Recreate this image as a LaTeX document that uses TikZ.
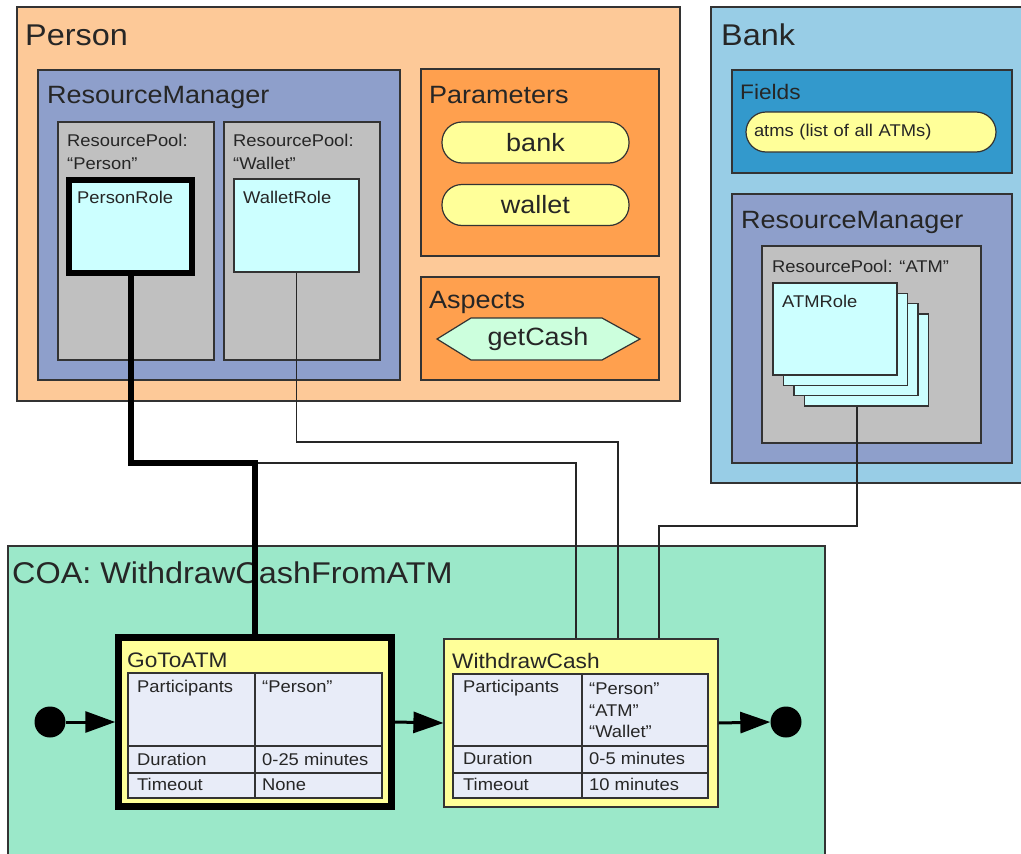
\documentclass[tikz,border=0pt]{standalone}
\usepackage{fontspec}
\setmainfont{Liberation Sans}[FakeStretch=1.08]
\usetikzlibrary{arrows.meta}

\definecolor{personfill}{HTML}{FDC998}
\definecolor{managerfill}{HTML}{8E9FCB}
\definecolor{poolfill}{HTML}{C0C0C0}
\definecolor{rolefill}{HTML}{CCFFFF}
\definecolor{paramfill}{HTML}{FFA04E}
\definecolor{pillfill}{HTML}{FFFF99}
\definecolor{aspectfill}{HTML}{CCFFDD}
\definecolor{bankfill}{HTML}{98CDE6}
\definecolor{fieldfill}{HTML}{3399CC}
\definecolor{coafill}{HTML}{9BE8C9}
\definecolor{tablefill}{HTML}{E8ECF8}
\definecolor{edge}{HTML}{333333}

\tikzset{
  box/.style={draw=edge, line width=1.2pt},
  bigtitle/.style={anchor=base west, inner sep=0, text=black!85, font=\fontsize{30}{36}\selectfont},
  midtitle/.style={anchor=base west, inner sep=0, text=black!85, font=\fontsize{25}{30}\selectfont},
  acttitle/.style={anchor=base west, inner sep=0, text=black!85, font=\fontsize{21}{25}\selectfont},
  smalltext/.style={anchor=base west, inner sep=0, text=black!85, font=\fontsize{17}{21}\selectfont},
  rolebox/.style={draw=edge, line width=1.2pt, fill=rolefill, inner sep=0, minimum width=124pt, minimum height=92pt},
  pill/.style={draw=edge, line width=1.2pt, fill=pillfill, rounded corners=20pt, minimum width=187pt, minimum height=41pt, text=black!85, font=\fontsize{25}{30}\selectfont},
  activity/.style={draw=edge, line width=1.2pt, fill=pillfill, inner sep=0},
  bound/.style={draw=black, line width=6.5pt},
  tableline/.style={draw=edge, line width=1.5pt},
  dot/.style={circle, fill=black, inner sep=0, minimum size=31pt},
  flow/.style={line width=3pt, -{Triangle[length=30pt,width=21pt]}},
  wire/.style={draw=black!85, line width=1.2pt},
}

\begin{document}
\begin{tikzpicture}[x=1pt,y=-1pt]
\clip (0,0) rectangle (1021,854);

% Person with its resource manager
\draw[box, fill=personfill] (17,7) rectangle (680,401);
\node (persontitle) [bigtitle] at (25,45) {Person};
\draw[box, fill=managerfill] (38,70) rectangle (400,380);
\node (personrm) [midtitle] at (47,103) {ResourceManager};
\draw[box, fill=poolfill] (58,122) rectangle (214,360);
\draw[box, fill=poolfill] (224,122) rectangle (380,360);
\node (personpool) [smalltext, anchor=north west, align=left, font=\fontsize{17}{23}\selectfont] at (67,134) {ResourcePool:\\“Person”};
\node (walletpool) [smalltext, anchor=north west, align=left, font=\fontsize{17}{23}\selectfont] at (233,134) {ResourcePool:\\“Wallet”};
\node (personrole) [rolebox, bound, line width=6pt, minimum width=123pt, minimum height=93pt] at (130.5,226) {};
\node (walletrole) [rolebox, minimum width=125pt, minimum height=93pt] at (296.5,225.5) {};
\node (personrolelabel) [smalltext] at (77,203) {PersonRole};
\node (walletrolelabel) [smalltext] at (243,203) {WalletRole};

% parameters and aspects
\draw[box, fill=paramfill] (421,69) rectangle (659,256);
\node (paramtitle) [midtitle] at (429,103) {Parameters};
\node (bank) [pill] at (535.5,142.5) {bank};
\node (wallet) [pill] at (535.5,205) {wallet};
\draw[box, fill=paramfill] (421,277) rectangle (659,380);
\node (aspecttitle) [midtitle] at (429,308) {Aspects};
\draw[box, fill=aspectfill] (437,339) -- (471,318) -- (602,318) -- (640,339) -- (602,360) -- (471,360) -- cycle;
\node (getcash) [text=black!85, font=\fontsize{25}{30}\selectfont] at (538,339) {getCash};

% Bank
\draw[box, fill=bankfill] (711,7) rectangle (1040,483);
\node (banktitle) [bigtitle] at (721,45) {Bank};
\draw[box, fill=fieldfill] (732,70) rectangle (1012,173);
\node (fieldstitle) [acttitle] at (740,99) {Fields};
\node (atms) [pill, minimum width=250pt, minimum height=40pt, text width=234pt, align=left, font=\fontsize{17}{21}\selectfont] at (871,132) {atms (list of all ATMs)};
\draw[box, fill=managerfill] (732,194) rectangle (1012,463);
\node (bankrm) [midtitle] at (741,228) {ResourceManager};
\draw[box, fill=poolfill] (762,246) rectangle (981,443);
\node (atmpool) [smalltext] at (772,272) {ResourcePool: “ATM”};
\foreach \i in {3,2,1,0}
    \node (atmcard\i) [rolebox] at (835+10.5*\i, 329+10.3*\i) {};
\node (atmrolelabel) [smalltext] at (782,307) {ATMRole};

% course of action
\draw[box, fill=coafill] (8,546) rectangle (825,870);
\node (coatitle) [bigtitle] at (12,583) {COA: WithdrawCashFromATM};

\node (gotoatm) [activity, bound, minimum width=273pt, minimum height=169pt] at (255,722) {};
\node (gotoatmtitle) [acttitle] at (127,667) {GoToATM};
\draw[tableline, fill=tablefill] (128,673) rectangle (382,798);
\draw[tableline] (255,673) -- (255,798);
\draw[tableline] (128,746) -- (382,746);
\draw[tableline] (128,773) -- (382,773);
\node (g-part) [smalltext] at (137,692) {Participants};
\node (g-partval) [smalltext] at (262,692) {“Person”};
\node (g-dur) [smalltext] at (137,765) {Duration};
\node (g-durval) [smalltext] at (262,765) {0-25 minutes};
\node (g-time) [smalltext] at (137,790) {Timeout};
\node (g-timeval) [smalltext] at (262,790) {None};

\node (withdraw) [activity, minimum width=274pt, minimum height=168pt] at (581,723) {};
\node (withdrawtitle) [acttitle] at (452,668) {WithdrawCash};
\draw[tableline, fill=tablefill] (453,674) rectangle (708,798);
\draw[tableline] (582,674) -- (582,798);
\draw[tableline] (453,746) -- (708,746);
\draw[tableline] (453,773) -- (708,773);
\node (w-part) [smalltext] at (463,692) {Participants};
\node (w-partval) [smalltext, anchor=north west, align=left, font=\fontsize{17}{21.5}\selectfont] at (589,683) {“Person”\\“ATM”\\“Wallet”};
\node (w-dur) [smalltext] at (463,764) {Duration};
\node (w-durval) [smalltext] at (589,764) {0-5 minutes};
\node (w-time) [smalltext] at (463,790) {Timeout};
\node (w-timeval) [smalltext] at (589,790) {10 minutes};

% start and end of the flow
\node (start) [dot] at (50,722) {};
\node (finish) [dot] at (786,722) {};
\draw[flow] (start) -- (gotoatm.west);
\draw[flow] (gotoatm.east) -- (withdraw.west);
\draw[flow] (withdraw.east) -- (finish.west);

% role bindings
\coordinate (personbend) at (576,463);
\coordinate (walletbend) at (618,442);
\coordinate (atmbend) at (659,526);
\draw[wire] (personrole.south) |- (personbend) -- (personbend |- withdraw.north);
\draw[wire] (walletrole.south) |- (walletbend) -- (walletbend |- withdraw.north);
\draw[wire] ([xshift=-9.5pt]atmcard3.south) |- (atmbend) -- (atmbend |- withdraw.north);
\draw[line width=6pt] (personrole.south) |- (gotoatm.north |- personbend) -- (gotoatm.north);

\end{tikzpicture}
\end{document}
